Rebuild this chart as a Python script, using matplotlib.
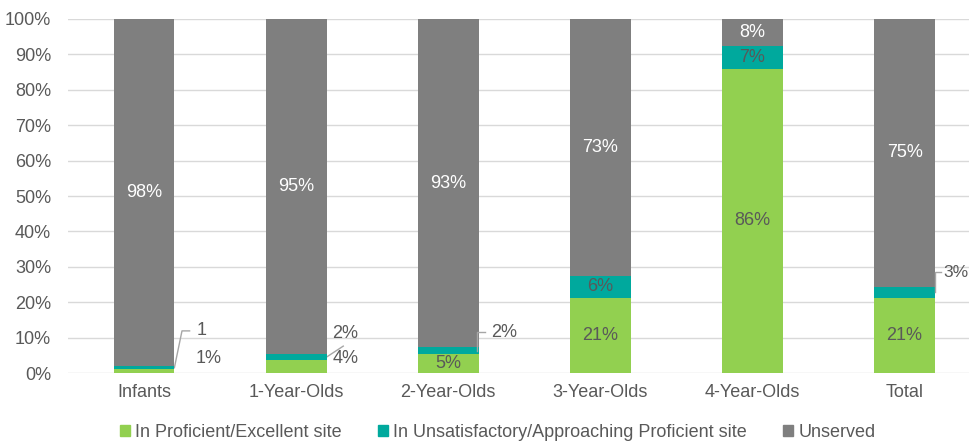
import matplotlib
matplotlib.use("Agg")
import matplotlib.pyplot as plt
from matplotlib.patches import Patch

plt.rcParams['font.family'] = ['Liberation Sans', 'DejaVu Sans']

# Data (percent of children by age group)
groups = ['Infants', '1-Year-Olds', '2-Year-Olds', '3-Year-Olds', '4-Year-Olds', 'Total']
proficient = [1.0, 3.8, 5.3, 21.2, 85.9, 21.3]
unsatisfactory = [1.0, 1.5, 2.0, 6.2, 6.5, 3.1]
unserved = [98.0, 94.7, 92.7, 72.6, 7.6, 75.6]
proficient_labels = ['1%', '4%', '5%', '21%', '86%', '21%']
unsatisfactory_labels = ['1', '2%', '2%', '6%', '7%', '3%']
unserved_labels = ['98%', '95%', '93%', '73%', '8%', '75%']

GREEN = '#92D050'
TEAL = '#00A99D'
GRAY = '#7F7F7F'
TXT = '#595959'
W = 0.4

fig = plt.figure(figsize=(9.7, 4.47), dpi=100)
ax = fig.add_axes([0.070, 0.1655, 0.930, 0.792])

x = range(len(groups))
bottom2 = [p + u for p, u in zip(proficient, unsatisfactory)]
ax.bar(x, proficient, W, color=GREEN, zorder=3)
ax.bar(x, unsatisfactory, W, bottom=proficient, color=TEAL, zorder=3)
ax.bar(x, unserved, W, bottom=bottom2, color=GRAY, zorder=3)

ax.set_ylim(0, 100)
ax.set_xlim(-0.5, 5.43)
ax.set_yticks(range(0, 101, 10))
ax.set_yticklabels([f'{v}%' for v in range(0, 101, 10)])
ax.set_xticks(list(x))
ax.set_xticklabels(groups)
ax.tick_params(axis='both', length=0, labelsize=13, colors=TXT)
ax.tick_params(axis='x', pad=8)
ax.tick_params(axis='y', pad=12)
ax.yaxis.grid(True, color='#D9D9D9', linewidth=1, zorder=0)
for s in ax.spines.values():
    s.set_visible(False)

fs = 13
# labels inside bars
for i in x:
    top = min(bottom2[i] + unserved[i], 100)
    ax.text(i, (bottom2[i] + top) / 2, unserved_labels[i], ha='center', va='center',
            color='white', fontsize=fs, zorder=4)
for i in [2, 3, 4, 5]:
    ax.text(i, proficient[i] / 2, proficient_labels[i], ha='center', va='center',
            color=TXT, fontsize=fs, zorder=4)
for i in [3, 4]:
    ax.text(i, proficient[i] + unsatisfactory[i] / 2, unsatisfactory_labels[i],
            ha='center', va='center', color=TXT, fontsize=fs, zorder=4)

# labels outside bars
ax.text(0 + 0.34, 4.2, proficient_labels[0], ha='left', va='center', color=TXT, fontsize=fs)
ax.text(1 + 0.24, 4.2, proficient_labels[1], ha='left', va='center', color=TXT, fontsize=fs)

lead = '#A6A6A6'
# Infants teal
ax.plot([0 + W / 2, 0.25, 0.30], [1.5, 11.9, 11.9], color=lead, lw=1, zorder=2)
ax.text(0.345, 11.9, unsatisfactory_labels[0], ha='left', va='center', color=TXT, fontsize=fs)
# 1-Year teal
ax.plot([1 + W / 2, 1.31], [4.5, 7.6], color=lead, lw=1, zorder=2)
ax.text(1 + 0.24, 11.3, unsatisfactory_labels[1], ha='left', va='center', color=TXT, fontsize=fs)
# 2-Year teal
ax.plot([2 + 0.19, 2 + 0.19, 2 + 0.24], [6.3, 11.6, 11.6], color=lead, lw=1, zorder=4)
ax.text(2 + 0.28, 11.4, unsatisfactory_labels[2], ha='left', va='center', color=TXT, fontsize=fs)
# Total teal
ax.plot([5 + 0.2, 5 + 0.2, 5 + 0.24], [22.9, 28.5, 28.5], color=lead, lw=1, zorder=4)
ax.text(5 + 0.255, 28.5, unsatisfactory_labels[5], ha='left', va='center', color=TXT,
        fontsize=12.5)

handles = [Patch(color=GREEN), Patch(color=TEAL), Patch(color=GRAY)]
names = ['In Proficient/Excellent site', 'In Unsatisfactory/Approaching Proficient site', 'Unserved']
leg = fig.legend(handles, names, loc='center', bbox_to_anchor=(0.513, 0.032), ncol=3,
                 frameon=False, fontsize=fs, handlelength=0.55, handleheight=0.55,
                 handletextpad=0.3, columnspacing=2.0)
for t in leg.get_texts():
    t.set_color(TXT)

fig.savefig('out.png', dpi=100)
